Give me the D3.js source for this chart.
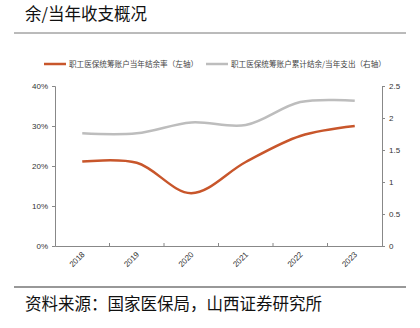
<!DOCTYPE html>
<html><head><meta charset="utf-8">
<script src="https://cdn.jsdelivr.net/npm/d3@7"></script>
<style>
body{margin:0;background:#fff;}
svg{display:block;font-family:"Noto Sans CJK SC","Liberation Sans",sans-serif;}
</style></head>
<body><svg id="c" width="420" height="328"></svg>
<script>
const years = ["2018","2019","2020","2021","2022","2023"];
const surplusRate = [21.1, 20.8, 13.2, 21.0, 27.5, 30.0];
const cumRatio = [1.76, 1.76, 1.93, 1.89, 2.25, 2.27];
const leftTicks = [0,10,20,30,40];
const rightTicks = [0,0.5,1,1.5,2,2.5];
const seriesNames = ["职工医保统筹账户当年结余率（左轴）","职工医保统筹账户累计结余/当年支出（右轴）"];
const title = "余/当年收支概况";
const source = "资料来源：国家医保局，山西证券研究所";

const svg = d3.select("#c");
const L = 55, R = 382, T = 86, B = 246;
const x = d3.scaleBand().domain(years).range([L,R]);
const yL = d3.scaleLinear().domain([0,40]).range([B,T]);
const yR = d3.scaleLinear().domain([0,2.5]).range([B,T]);

svg.append("text").attr("x",25).attr("y",20).attr("font-size",16.5).attr("fill","#111").text(title);
svg.append("line").attr("x1",14).attr("x2",406).attr("y1",33).attr("y2",33).attr("stroke","#777").attr("stroke-width",1);
svg.append("line").attr("x1",14).attr("x2",406).attr("y1",287).attr("y2",287).attr("stroke","#333").attr("stroke-width",1.2);
svg.append("text").attr("x",25).attr("y",310).attr("font-size",16.5).attr("fill","#111").text(source);

// legend
const colors = ["#C8562B","#BDBDBD"];
const lg = [[44,69],[206,231]];
lg.forEach((p,i)=>{
  svg.append("line").attr("x1",p[0]).attr("x2",p[0]+22).attr("y1",64).attr("y2",64).attr("stroke",colors[i]).attr("stroke-width",2.5);
  svg.append("text").attr("x",p[1]).attr("y",67).attr("font-size",7.6).attr("fill","#444").text(seriesNames[i]);
});

const axL = svg.append("g").attr("transform",`translate(${L},0)`)
  .call(d3.axisLeft(yL).tickValues(leftTicks).tickFormat(d=>d+"%").tickSize(3).tickPadding(4));
const axR = svg.append("g").attr("transform",`translate(${R},0)`)
  .call(d3.axisRight(yR).tickValues(rightTicks).tickFormat(d=>d).tickSize(3).tickPadding(4));
const axX = svg.append("g").attr("transform",`translate(0,${B})`)
  .call(d3.axisBottom(x).tickSize(0).tickFormat(""));
svg.append("g").selectAll("line").data(years.slice(1)).join("line")
  .attr("x1",d=>x(d)).attr("x2",d=>x(d)).attr("y1",B).attr("y2",B-3).attr("stroke","#888");
svg.append("g").selectAll("text").data(years).join("text")
  .attr("transform",d=>`translate(${x(d)+x.bandwidth()/2+3},${B+9}) rotate(-45)`)
  .attr("text-anchor","end").attr("font-size",8).attr("font-family","Liberation Sans, Arial, sans-serif").attr("fill","#333").text(d=>d);

[axL,axR,axX].forEach(a=>{
  a.selectAll(".domain").attr("stroke","#888");
  a.selectAll(".tick line").attr("stroke","#888");
  a.selectAll(".tick text").attr("font-size",8).attr("font-family","Liberation Sans, Arial, sans-serif").attr("fill","#333");
});

const cx = d=>x(d)+x.bandwidth()/2;
svg.append("path").datum(cumRatio)
  .attr("d",d3.line().x((d,i)=>cx(years[i])).y(d=>yR(d)).curve(d3.curveCatmullRom.alpha(0.5)))
  .attr("fill","none").attr("stroke",colors[1]).attr("stroke-width",2.5);
svg.append("path").datum(surplusRate)
  .attr("d",d3.line().x((d,i)=>cx(years[i])).y(d=>yL(d)).curve(d3.curveCatmullRom.alpha(0.5)))
  .attr("fill","none").attr("stroke",colors[0]).attr("stroke-width",2.5);
</script></body></html>
